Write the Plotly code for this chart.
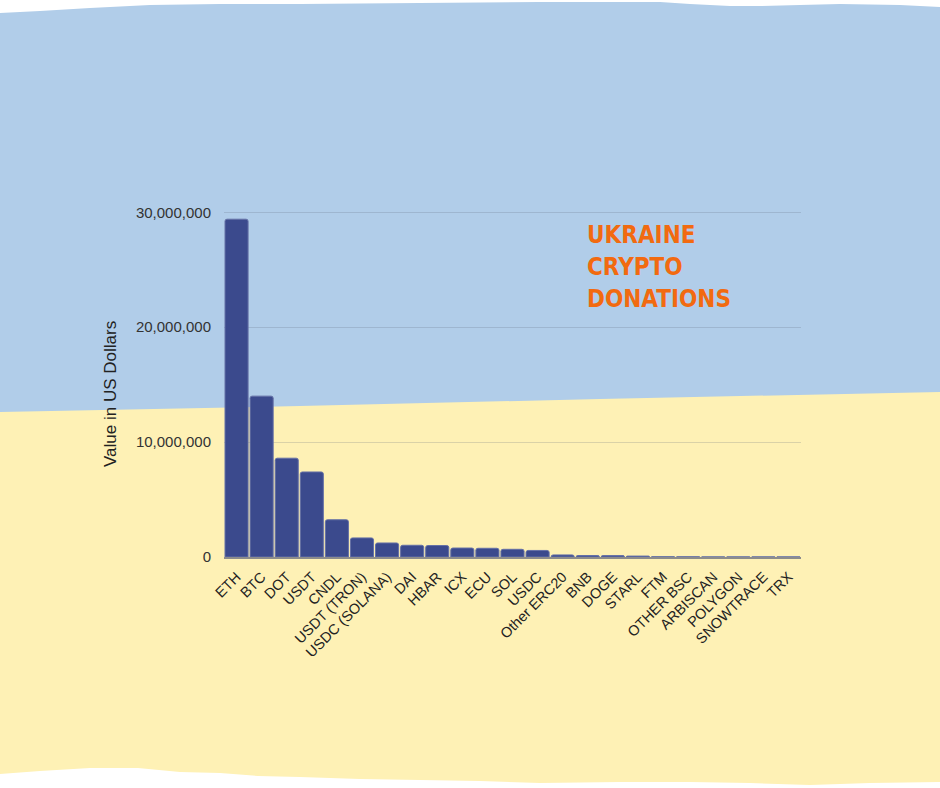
import plotly.graph_objects as go

categories = ["ETH", "BTC", "DOT", "USDT", "CNDL", "USDT (TRON)", "USDC (SOLANA)", "DAI", "HBAR",
              "ICX", "ECU", "SOL", "USDC", "Other ERC20", "BNB", "DOGE", "STARL", "FTM",
              "OTHER BSC", "ARBISCAN", "POLYGON", "SNOWTRACE", "TRX"]
values = [29_400_000, 14_000_000, 8_600_000, 7_400_000, 3_240_000, 1_660_000, 1_220_000, 1_020_000,
          1_000_000, 780_000, 760_000, 670_000, 570_000, 180_000, 130_000, 120_000, 80_000,
          20_000, 15_000, 10_000, 10_000, 10_000, 10_000]
y_ticks = [0, 10_000_000, 20_000_000, 30_000_000]
y_tick_labels = ["0", "10,000,000", "20,000,000", "30,000,000"]
title_lines = ["UKRAINE", "CRYPTO", "DONATIONS"]

W, H = 940, 788
L, R, T, B = 224, 139, 210, 231
PW, PH = W - L - R, H - T - B


def px2paper(x, y):
    return (x - L) / PW, (H - B - y) / PH


def path(points):
    pts = [px2paper(x, y) for x, y in points]
    s = "M " + " L ".join(f"{x:.5f},{y:.5f}" for x, y in pts) + " Z"
    return s


blue_pts = [(0, 13), (40, 11), (90, 8), (150, 5), (220, 4), (300, 4), (420, 3), (540, 2), (660, 2),
            (690, 4), (730, 6), (760, 6), (800, 5), (840, 4), (900, 5), (940, 7),
            (940, 393), (600, 400), (300, 407), (0, 413)]
yellow_pts = [(0, 412), (300, 406), (600, 399), (940, 392),
              (940, 782), (870, 783), (810, 785), (750, 783), (690, 782), (620, 782),
              (540, 783), (480, 781), (420, 780), (360, 779), (300, 777), (258, 776),
              (220, 773), (180, 772), (138, 768), (90, 768), (40, 771), (0, 774)]

fig = go.Figure()
fig.add_trace(go.Bar(
    x=categories, y=values,
    marker=dict(color="#3B4A8D", line=dict(color="#6470A6", width=1), cornerradius=2),
    hoverinfo="skip",
))

shapes = [
    dict(type="path", xref="paper", yref="paper", path=path(blue_pts),
         fillcolor="#B1CDE9", line=dict(width=0), layer="below"),
    dict(type="path", xref="paper", yref="paper", path=path(yellow_pts),
         fillcolor="#FEF1B5", line=dict(width=0), layer="below"),
]

annotations = [
    dict(text="Value in US Dollars", xref="paper", yref="paper",
         x=px2paper(110, 0)[0], y=px2paper(0, 394)[1], showarrow=False, textangle=-90,
         xanchor="center", yanchor="middle",
         font=dict(family="Liberation Sans, Arial, sans-serif", size=17, color="#222222")),
]
line_y = [235, 267, 299]
for txt, ly in zip(title_lines, line_y):
    annotations.append(dict(
        text=txt, xref="paper", yref="paper", x=px2paper(585, 0)[0], y=px2paper(0, ly)[1],
        showarrow=False, xanchor="left", yanchor="middle",
        font=dict(family="DejaVu Sans Condensed, Liberation Sans, sans-serif",
                  size=24, color="#F26A10", weight="bold")))

fig.update_layout(
    width=W, height=H,
    margin=dict(l=L, r=R, t=T, b=B, pad=0),
    paper_bgcolor="white", plot_bgcolor="rgba(0,0,0,0)",
    shapes=shapes, annotations=annotations, showlegend=False, bargap=0.08,
)
fig.update_xaxes(
    tickangle=-45, showgrid=False, showline=True, linecolor="#8C8C8C", linewidth=1.5,
    tickfont=dict(family="Liberation Sans, Arial, sans-serif", size=14.5, color="#222222"),
    ticks="outside", ticklen=4, tickcolor="rgba(0,0,0,0)",
)
fig.update_yaxes(
    range=[0, 30_200_000], tickvals=y_ticks, ticktext=y_tick_labels,
    showgrid=True, gridcolor="rgba(90,100,120,0.22)", gridwidth=1, zeroline=False,
    tickfont=dict(family="Liberation Sans, Arial, sans-serif", size=15, color="#333333"),
    ticks="outside", ticklen=9, tickcolor="rgba(0,0,0,0)",
)

fig.write_html("out.html", config={"displayModeBar": False},
               post_script="document.body.style.margin='0';")
